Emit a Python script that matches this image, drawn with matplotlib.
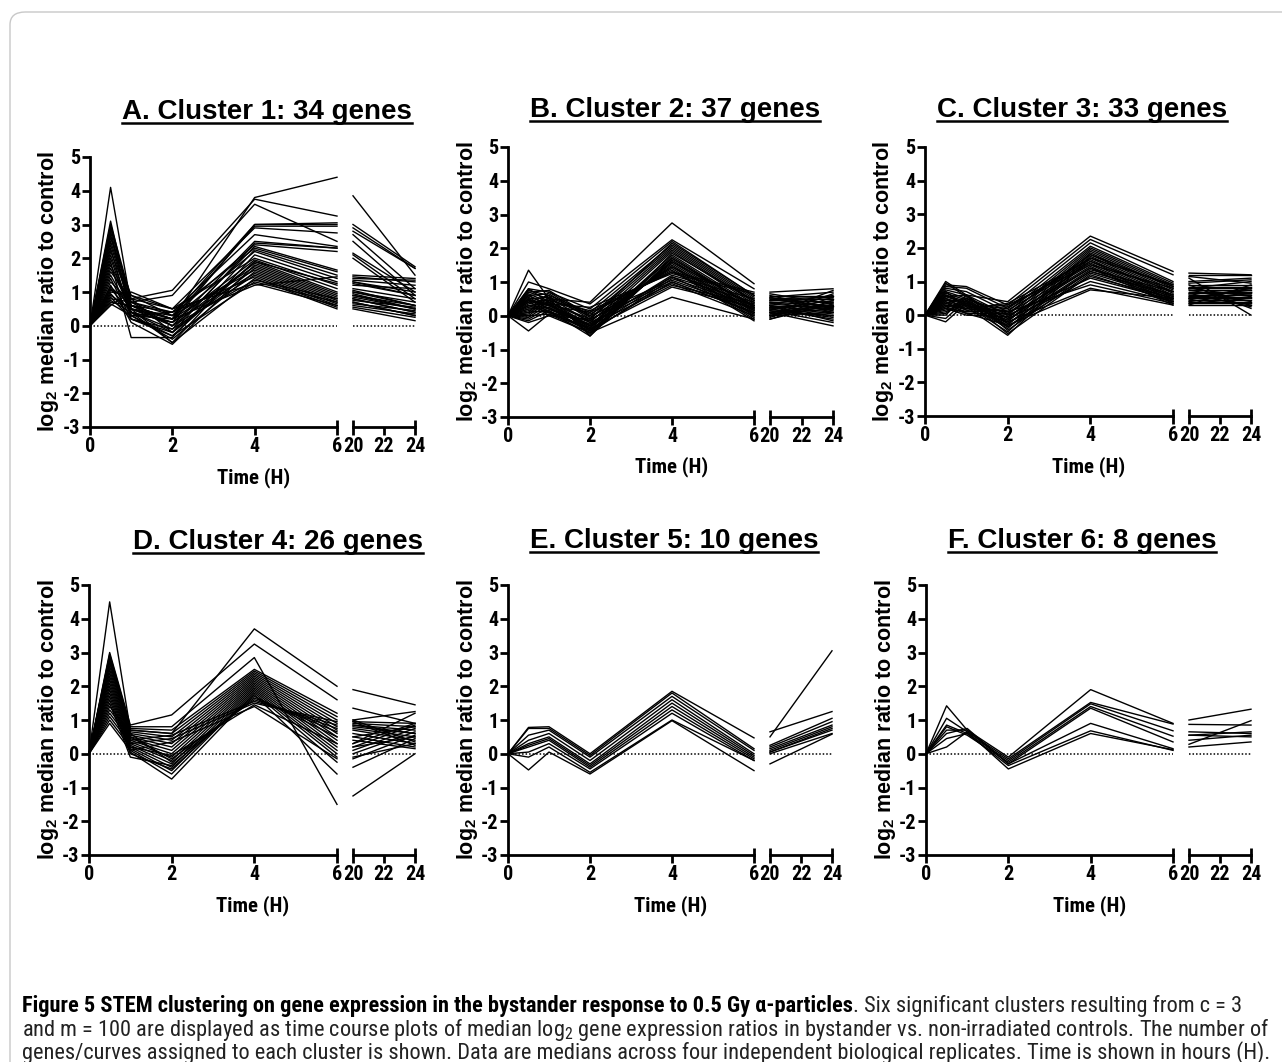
import matplotlib
matplotlib.use("Agg")
import matplotlib.pyplot as plt
from matplotlib import font_manager as fm
from matplotlib.patches import FancyBboxPatch
from matplotlib.lines import Line2D

# time points (hours); axis is broken between 6 h and 20 h
times_early = [0, 0.5, 1, 2, 4, 6]
times_late = [20, 24]

# each profile: values at 0.5, 1, 2, 4, 6, 20, 24 h (all profiles start at 0 at t=0)
cluster1 = [
    [4.1, 0.6, 0.2, 3.8, 4.4, 3.85, 1.5],
    [3.0, 0.8, 1.05, 3.75, 3.25, 3.0, 1.75],
    [2.9, 0.7, 0.9, 3.6, 2.5, 2.9, 1.7],
    [3.1, 0.5, 0.3, 3.0, 3.0, 2.8, 1.7],
    [2.8, 0.4, 0.1, 3.0, 3.05, 2.7, 1.1],
    [2.7, 0.3, 0.2, 2.95, 2.95, 2.5, 0.9],
    [2.6, 0.9, 0.5, 2.9, 2.75, 2.15, 1.0],
    [2.5, 0.6, 0.4, 2.7, 2.35, 2.1, 0.8],
    [2.4, 0.5, 0.0, 2.5, 2.3, 2.0, 0.7],
    [2.3, 0.2, -0.2, 2.45, 2.3, 1.5, 1.4],
    [2.2, 0.7, 0.3, 2.4, 2.2, 1.45, 1.3],
    [2.1, 0.4, -0.1, 2.35, 1.65, 1.4, 1.35],
    [2.0, 0.3, 0.4, 2.3, 1.6, 1.35, 1.2],
    [1.9, -0.35, -0.35, 2.25, 1.5, 1.3, 1.0],
    [1.8, 0.6, 0.2, 2.2, 1.4, 1.25, 0.9],
    [1.7, 0.5, -0.5, 2.1, 1.3, 1.2, 1.1],
    [1.6, 0.8, 0.5, 2.0, 1.2, 1.1, 0.8],
    [1.5, 0.4, 0.1, 1.95, 1.1, 1.05, 0.6],
    [1.4, 0.2, -0.3, 1.9, 1.0, 1.0, 0.7],
    [1.3, 0.7, 0.0, 1.85, 0.95, 0.95, 0.5],
    [1.2, 0.1, -0.55, 1.8, 0.9, 0.9, 0.6],
    [1.15, 0.6, 0.2, 1.75, 0.85, 0.85, 0.5],
    [1.1, 0.4, -0.2, 1.7, 0.8, 0.8, 0.4],
    [1.0, 0.9, 0.3, 1.65, 0.75, 0.75, 0.55],
    [0.95, 0.3, -0.4, 1.6, 0.7, 0.7, 0.3],
    [0.9, 0.5, 0.1, 1.55, 0.65, 0.65, 0.45],
    [0.85, 0.2, -0.1, 1.5, 0.6, 0.6, 0.35],
    [0.8, 0.7, 0.4, 1.45, 0.55, 0.55, 0.25],
    [0.75, 0.4, -0.5, 1.4, 0.5, 0.5, 0.15],
    [0.7, 0.6, 0.0, 1.35, 0.8, 1.0, 0.6],
    [0.65, 0.3, -0.3, 1.3, 0.7, 0.9, 0.5],
    [0.6, 1.0, 0.5, 1.25, 0.6, 0.8, 0.4],
    [2.95, 0.5, 0.2, 1.2, 1.45, 1.3, 0.9],
    [1.05, 0.8, -0.2, 1.9, 1.25, 0.7, 0.3],
]

cluster2 = [
    [1.35, 0.5, 0.4, 2.75, 0.95, 0.7, 0.8],
    [1.0, 0.8, 0.35, 2.25, 0.8, 0.6, 0.6],
    [0.8, 0.7, 0.2, 2.2, 0.6, 0.55, 0.7],
    [0.75, 0.6, 0.1, 2.1, 0.55, 0.5, 0.5],
    [0.7, 0.5, 0.0, 2.05, 0.5, 0.45, 0.4],
    [0.65, 0.4, -0.1, 2.0, 0.45, 0.4, 0.3],
    [0.6, 0.3, -0.2, 1.95, 0.4, 0.35, 0.2],
    [0.55, 0.2, -0.3, 1.9, 0.35, 0.3, 0.1],
    [0.5, 0.1, -0.4, 1.8, 0.3, 0.25, 0.0],
    [0.45, 0.0, -0.5, 1.75, 0.25, 0.2, -0.1],
    [0.4, 0.6, -0.6, 1.7, 0.2, 0.15, -0.2],
    [0.35, 0.5, -0.55, 1.65, 0.15, 0.1, -0.3],
    [0.3, 0.4, -0.45, 1.6, 0.1, 0.05, 0.75],
    [0.25, 0.3, -0.35, 1.55, 0.05, 0.0, 0.65],
    [0.2, 0.2, -0.25, 1.5, 0.0, -0.05, 0.55],
    [0.15, 0.1, -0.15, 1.45, -0.05, -0.1, 0.45],
    [0.1, 0.7, -0.05, 1.4, -0.1, 0.65, 0.35],
    [0.05, 0.55, 0.05, 1.35, -0.15, 0.5, 0.25],
    [0.0, 0.45, 0.15, 1.3, 0.7, 0.4, 0.15],
    [-0.05, 0.35, 0.25, 1.25, 0.65, 0.3, 0.05],
    [-0.1, 0.25, -0.3, 1.2, 0.5, 0.2, -0.05],
    [-0.15, 0.15, -0.4, 1.15, 0.4, 0.1, 0.3],
    [-0.45, 0.05, -0.5, 1.1, 0.3, 0.0, 0.4],
    [0.7, 0.75, 0.0, 1.05, 0.2, 0.6, 0.2],
    [0.6, 0.65, -0.1, 1.0, 0.1, 0.55, 0.1],
    [0.5, 0.55, -0.2, 0.95, 0.0, 0.45, 0.5],
    [0.4, 0.45, -0.3, 0.9, 0.35, 0.35, 0.6],
    [0.3, 0.35, -0.4, 0.85, 0.25, 0.25, 0.3],
    [0.2, 0.25, -0.5, 0.55, -0.1, 0.15, 0.0],
    [0.1, 0.15, -0.6, 1.85, 0.45, 0.05, 0.2],
    [0.0, 0.05, -0.35, 1.6, 0.3, -0.1, 0.35],
    [0.8, 0.4, -0.15, 1.45, 0.2, 0.3, -0.15],
    [0.6, 0.3, 0.1, 1.3, 0.15, 0.2, 0.45],
    [0.5, 0.2, -0.25, 1.15, 0.05, 0.1, 0.25],
    [0.3, 0.1, -0.45, 1.0, 0.1, 0.0, 0.1],
    [-0.2, 0.0, -0.1, 2.15, 0.6, 0.5, 0.55],
    [0.45, 0.35, -0.3, 1.7, 0.25, 0.3, 0.3],
]

cluster3 = [
    [1.0, 0.6, 0.4, 2.35, 1.3, 1.25, 1.2],
    [0.9, 0.85, 0.3, 2.25, 1.2, 1.2, 1.2],
    [0.85, 0.8, 0.2, 2.15, 1.0, 1.0, 1.1],
    [0.8, 0.7, 0.1, 2.05, 0.95, 0.95, 1.05],
    [0.75, 0.6, 0.0, 2.0, 0.9, 0.9, 0.9],
    [0.7, 0.5, -0.1, 1.95, 0.85, 0.85, 0.85],
    [0.65, 0.45, -0.2, 1.9, 0.8, 0.8, 0.8],
    [0.6, 0.4, -0.3, 1.85, 0.75, 0.75, 0.75],
    [0.55, 0.35, -0.4, 1.8, 0.7, 0.7, 0.7],
    [0.5, 0.3, -0.5, 1.75, 0.65, 0.65, 0.65],
    [0.45, 0.25, -0.6, 1.7, 0.6, 0.6, 0.6],
    [0.4, 0.2, 0.35, 1.65, 0.55, 0.55, 0.55],
    [0.35, 0.15, 0.25, 1.6, 0.5, 0.5, 0.5],
    [0.3, 0.1, 0.15, 1.55, 0.45, 0.45, 0.45],
    [0.25, 0.05, 0.05, 1.5, 0.4, 0.4, 0.4],
    [0.2, 0.0, -0.05, 1.45, 0.35, 0.35, 0.35],
    [0.15, 0.3, -0.15, 1.4, 0.3, 0.3, 0.3],
    [0.1, 0.4, -0.25, 1.35, 0.7, 1.1, 0.0],
    [0.05, 0.5, -0.35, 1.3, 0.6, 0.9, 0.2],
    [0.0, 0.6, -0.45, 1.25, 0.5, 0.8, 1.0],
    [-0.1, 0.45, -0.55, 1.2, 0.4, 0.3, 0.9],
    [-0.2, 0.35, 0.0, 1.1, 0.45, 0.5, 0.75],
    [0.95, 0.55, -0.1, 1.0, 0.4, 0.6, 0.3],
    [0.7, 0.25, 0.1, 0.9, 0.35, 0.45, 0.8],
    [0.5, 0.15, -0.2, 0.8, 0.3, 0.35, 0.5],
    [0.4, 0.05, -0.3, 0.75, 0.5, 0.65, 0.25],
    [0.3, 0.2, 0.3, 1.5, 0.8, 0.8, 0.55],
    [0.2, 0.1, 0.2, 1.7, 0.9, 0.7, 0.7],
    [0.6, 0.3, -0.05, 1.4, 0.6, 0.55, 0.6],
    [0.45, 0.4, -0.15, 1.6, 0.7, 0.5, 0.8],
    [0.35, 0.5, 0.05, 1.8, 0.85, 0.75, 0.4],
    [0.55, 0.6, -0.25, 1.3, 0.55, 0.4, 0.65],
    [0.25, 0.35, -0.35, 1.15, 0.5, 1.15, 0.95],
]

cluster4 = [
    [4.5, 0.7, 0.6, 3.7, 2.0, 1.9, 1.45],
    [3.0, 0.85, 1.15, 3.25, 1.6, 1.35, 0.9],
    [2.95, 0.8, 0.8, 2.85, -1.5, -1.25, 0.0],
    [2.9, 0.75, 0.7, 2.5, 1.2, 1.0, 1.25],
    [2.85, 0.7, 0.6, 2.45, 1.1, 0.95, 0.9],
    [2.8, 0.65, 0.5, 2.4, 1.0, 0.9, 0.8],
    [2.75, 0.6, 0.4, 2.35, 0.9, 0.85, 0.7],
    [2.7, 0.55, 0.3, 2.3, 0.8, 0.8, 0.6],
    [2.6, 0.5, 0.2, 2.25, 0.7, 0.75, 0.5],
    [2.5, 0.45, 0.1, 2.2, 0.6, 0.7, 0.4],
    [2.4, 0.4, 0.0, 2.15, 0.5, 0.6, 0.3],
    [2.3, 0.35, -0.1, 2.1, 0.4, 0.5, 0.2],
    [2.2, 0.3, -0.2, 2.05, 0.3, 0.4, 0.15],
    [2.1, 0.25, -0.3, 2.0, 0.2, 0.3, 0.9],
    [2.0, 0.2, -0.4, 1.95, 0.1, 0.2, 0.85],
    [1.9, 0.15, -0.5, 1.9, 0.0, 0.1, 0.75],
    [1.8, 0.1, -0.6, 1.85, -0.1, 0.0, 0.65],
    [1.7, 0.05, -0.75, 1.8, -0.25, -0.15, 0.55],
    [1.6, 0.0, -0.45, 1.75, -0.6, -0.4, 0.45],
    [1.5, -0.1, -0.35, 1.7, 0.5, 1.0, 0.35],
    [1.4, 0.6, -0.25, 1.65, 0.65, 0.95, 0.25],
    [1.3, 0.5, -0.15, 1.6, 0.75, 0.85, 0.6],
    [1.2, 0.4, 0.55, 1.55, 0.85, 0.5, 0.8],
    [1.1, 0.3, 0.45, 1.5, 0.95, 0.3, 1.2],
    [1.0, 0.2, -0.05, 1.45, 0.3, 0.2, 0.5],
    [0.9, 0.1, 0.35, 1.4, -0.15, -0.1, 0.3],
]

cluster5 = [
    [0.78, 0.8, 0.0, 1.85, 0.47, 0.65, 1.25],
    [0.75, 0.75, -0.05, 1.8, 0.15, 0.5, 3.05],
    [0.55, 0.7, -0.1, 1.7, 0.1, 0.25, 1.05],
    [0.4, 0.6, -0.2, 1.6, 0.0, 0.2, 0.95],
    [0.3, 0.5, -0.3, 1.5, -0.05, 0.15, 0.85],
    [0.25, 0.45, -0.35, 1.4, -0.1, 0.1, 0.8],
    [0.2, 0.4, -0.4, 1.3, -0.15, 0.05, 0.75],
    [0.05, 0.3, -0.45, 1.2, -0.2, 0.05, 0.7],
    [-0.1, 0.2, -0.55, 1.0, -0.2, 0.0, 0.6],
    [-0.48, 0.05, -0.6, 0.98, -0.5, -0.3, 0.58],
]

cluster6 = [
    [1.42, 0.7, -0.1, 1.9, 0.9, 1.0, 1.32],
    [1.05, 0.65, -0.15, 1.52, 0.88, 0.87, 0.85],
    [0.85, 0.6, -0.2, 1.48, 0.68, 0.65, 0.6],
    [0.8, 0.55, -0.25, 1.4, 0.52, 0.55, 0.65],
    [0.7, 0.7, -0.3, 1.35, 0.35, 0.55, 0.5],
    [0.6, 0.75, -0.3, 0.9, 0.15, 0.28, 0.98],
    [0.45, 0.6, -0.35, 0.68, 0.1, 0.4, 0.55],
    [0.2, 0.65, -0.45, 0.6, 0.12, 0.2, 0.35],
]

clusters = [cluster1, cluster2, cluster3, cluster4, cluster5, cluster6]
titles = [
    "A. Cluster 1: 34 genes",
    "B. Cluster 2: 37 genes",
    "C. Cluster 3: 33 genes",
    "D. Cluster 4: 26 genes",
    "E. Cluster 5: 10 genes",
    "F. Cluster 6: 8 genes",
]
y_ticks = [-3, -2, -1, 0, 1, 2, 3, 4, 5]

W, H = 1282, 1062
# pixel boxes: (x of 0 h, x of 6 h, x of 20 h, x of 24 h, y top (5), y bottom (-3))
boxes = [
    (90, 337, 353, 415, 157, 427),
    (508, 754, 770, 833, 147, 417),
    (925, 1173, 1189, 1251, 147, 416),
    (89, 337, 353, 415, 585, 855),
    (508, 754, 770, 832, 585, 855),
    (926, 1173, 1189, 1251, 585, 855),
]
title_pos = [(267, 119), (675, 117), (1082, 117), (278, 549), (674, 548), (1082, 548)]
ylabel_x = [49, 467, 884, 49, 467, 885]
xlabel_y = [478, 467, 467, 906, 906, 906]


def pick_narrow():
    # a condensed sans for the Prism-style tick labels and the caption
    fonts = fm.fontManager.ttflist
    names = {f.name for f in fonts}
    for cand in ["Liberation Sans Narrow", "Roboto Condensed", "Open Sans Condensed",
                 "Noto Sans Condensed", "DejaVu Sans Condensed", "Arial Narrow"]:
        if cand in names:
            return cand, "normal"
    for f in fonts:
        st = f.stretch
        cond = st in ("condensed", "semi-condensed", "extra-condensed") or \
            (isinstance(st, int) and st < 500)
        if cond and any(k in f.name for k in ("Sans", "Roboto", "Lato", "Inter")) \
                and "CJK" not in f.name:
            return f.name, st
    return "Liberation Sans", "normal"


narrow_name, narrow_stretch = pick_narrow()
narrow = [narrow_name, "Liberation Sans", "DejaVu Sans"]
plt.rcParams["font.family"] = ["Liberation Sans", "DejaVu Sans"]
plt.rcParams["mathtext.fontset"] = "custom"
plt.rcParams["mathtext.rm"] = narrow_name
plt.rcParams["mathtext.bf"] = "Liberation Sans:bold"
nfont = dict(family=narrow, fontstretch=narrow_stretch)

fig = plt.figure(figsize=(W / 100, H / 100), dpi=100)

frame = FancyBboxPatch((10 / W, -0.02), 1.02, 1 - 12 / H + 0.02,
                       boxstyle="round,pad=0,rounding_size=0.012",
                       transform=fig.transFigure, fill=False,
                       edgecolor="#c8c8c8", linewidth=1.0)
fig.patches.append(frame)

spine_w = 2.0
tick_size = 14.5
title_texts = []
for k, (rows, title) in enumerate(zip(clusters, titles)):
    x0, x6, x20, x24, ytop, ybot = boxes[k]
    ax1 = fig.add_axes([x0 / W, 1 - ybot / H, (x6 - x0) / W, (ybot - ytop) / H])
    ax2 = fig.add_axes([x20 / W, 1 - ybot / H, (x24 - x20) / W, (ybot - ytop) / H])

    for row in rows:
        early = [0.0] + row[:5]
        late = row[5:]
        ax1.plot(times_early, early, color="black", lw=1.0, clip_on=False)
        ax2.plot(times_late, late, color="black", lw=1.0, clip_on=False)

    ax1.plot([0, 6], [0, 0], color="black", lw=1.1, ls=(0, (1, 1.3)), zorder=0)
    ax2.plot([20, 24], [0, 0], color="black", lw=1.1, ls=(0, (1, 1.3)), zorder=0)

    ax1.set_xlim(0, 6)
    ax2.set_xlim(20, 24)
    for ax in (ax1, ax2):
        ax.set_ylim(-3, 5)
        ax.patch.set_visible(False)
        for s in ("top", "right"):
            ax.spines[s].set_visible(False)
        ax.spines["bottom"].set_linewidth(spine_w)
        ax.spines["left"].set_linewidth(spine_w)
        ax.tick_params(direction="out", length=5.5, width=spine_w, pad=1.5)
    ax1.set_xticks([0, 2, 4, 6])
    ax2.set_xticks([20, 22, 24])
    ax1.set_yticks(y_ticks)
    ax1.set_yticklabels([str(v) for v in y_ticks], fontweight="bold",
                        fontsize=tick_size, **nfont)
    ax1.set_xticklabels(["0", "2", "4", "6"], fontweight="bold",
                        fontsize=tick_size, **nfont)
    ax2.set_xticklabels(["20", "22", "24"], fontweight="bold",
                        fontsize=tick_size, **nfont)
    ax2.spines["left"].set_visible(False)
    ax2.set_yticks([])

    # small caps at the broken ends of the x axis
    for ax, xe in ((ax1, 6), (ax2, 20), (ax2, 24)):
        ax.plot([xe, xe], [0, 0.025], transform=ax.get_xaxis_transform(),
                color="black", lw=spine_w, clip_on=False, solid_capstyle="butt")

    fig.text(ylabel_x[k] / W, 1 - ((ytop + ybot) / 2) / H,
             r"log$_\mathbf{2}$ median ratio to control", rotation=90,
             ha="center", va="center", fontsize=15.5, fontweight="bold")
    fig.text(((x0 + x24) / 2 + 1) / W, 1 - xlabel_y[k] / H, "Time (H)",
             ha="center", va="center", fontweight="bold", fontsize=15, **nfont)

    tx, ty = title_pos[k]
    t = fig.text(tx / W, 1 - ty / H, title, ha="center", va="baseline",
                 fontsize=20, fontweight="bold")
    title_texts.append((t, ty))

fig.canvas.draw()
renderer = fig.canvas.get_renderer()

# underline the panel titles
for t, ty in title_texts:
    bb = t.get_window_extent(renderer)
    yline = (H - ty - 4) / H
    fig.add_artist(Line2D([bb.x0 / W, bb.x1 / W], [yline, yline],
                          transform=fig.transFigure, color="black", lw=1.8))

# caption
cap_x = 22
cap_right = 1270
bold_part = ("Figure 5 STEM clustering on gene expression in the bystander "
             "response to 0.5 Gy \u03b1-particles")
rest1 = ". Six significant clusters resulting from c = 3"
line2 = ("and m = 100 are displayed as time course plots of median log$_2$ gene "
         "expression ratios in bystander vs. non-irradiated controls. The number of")
line3 = ("genes/curves assigned to each cluster is shown. Data are medians across "
         "four independent biological replicates. Time is shown in hours (H).")


def draw_caption(size):
    arts = []
    t1 = fig.text(cap_x / W, 1 - 1006 / H, bold_part, ha="left", va="center",
                  fontweight="bold", fontsize=size, color="black", **nfont)
    arts.append(t1)
    bb1 = t1.get_window_extent(renderer)
    arts.append(fig.text(bb1.x1 / W, 1 - 1006 / H, rest1, ha="left", va="center",
                         fontsize=size, color="#222222", **nfont))
    arts.append(fig.text(cap_x / W, 1 - 1030 / H, line2, ha="left", va="center",
                         fontsize=size, color="#222222", **nfont))
    arts.append(fig.text(cap_x / W, 1 - 1053 / H, line3, ha="left", va="center",
                         fontsize=size, color="#222222", **nfont))
    right = max(a.get_window_extent(renderer).x1 for a in arts)
    return arts, right


size = 12.0
arts, right = draw_caption(size)
for a in arts:
    a.remove()
size = size * (cap_right - cap_x) / (right - cap_x)
draw_caption(size)

fig.savefig("out.png", dpi=100)
